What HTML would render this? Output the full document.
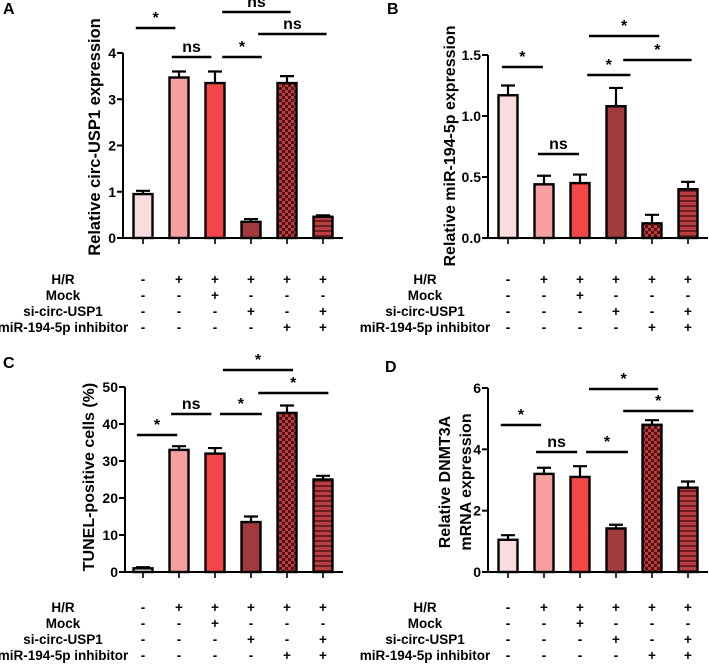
<!DOCTYPE html>
<html><head><meta charset="utf-8"><style>
html,body{margin:0;padding:0;background:#fff;}
svg{display:block;font-family:"Liberation Sans",Arial,sans-serif;font-weight:bold;}
</style></head><body>
<svg id="fig" width="709" height="667" viewBox="0 0 709 667">
<defs>
<pattern id="checker" width="6" height="6" patternUnits="userSpaceOnUse">
<rect width="6" height="6" fill="#c23a3c"/><rect width="3" height="3" fill="#4a1414"/><rect x="3" y="3" width="3" height="3" fill="#4a1414"/>
</pattern>
<pattern id="stripes" width="6" height="5" patternUnits="userSpaceOnUse">
<rect width="6" height="5" fill="#b84042"/><rect width="6" height="2" fill="#6e1e20"/>
</pattern>
</defs>
</svg>
<script>
const categories = ["Control","H/R","H/R+Mock","H/R+si-circ-USP1","H/R+inhibitor","H/R+si+inhibitor"];
const valuesA = [0.95,3.47,3.35,0.35,3.35,0.46];
const errorsA = [0.07,0.13,0.25,0.06,0.15,0.03];
const valuesB = [1.17,0.44,0.45,1.08,0.12,0.40];
const errorsB = [0.08,0.07,0.07,0.15,0.07,0.06];
const valuesC = [1,33,32,13.5,43,25];
const errorsC = [0.3,1,1.5,1.5,2,1];
const valuesD = [1.05,3.2,3.1,1.42,4.8,2.75];
const errorsD = [0.15,0.2,0.35,0.12,0.15,0.2];
const ticksA = [0,1,2,3,4];
const ticksB = [0,0.5,1.0,1.5];
const ticksC = [0,10,20,30,40,50];
const ticksD = [0,2,4,6];
const tickLabelsB = ["0.0","0.5","1.0","1.5"];
const rowNames = ["H/R","Mock","si-circ-USP1","miR-194-5p inhibitor"];
const rowSigns = [["-","+","+","+","+","+"],["-","-","+","-","-","-"],["-","-","-","+","-","+"],["-","-","-","-","+","+"]];
const fills = ["#fbdcdc","#f6a0a0","#f44848","#a13a3b","url(#checker)","url(#stripes)"];
const sigA = [[-0.2,0.9,28,"*"],[0.8,1.9,57,"ns"],[2.2,3.3,57,"*"],[2.2,4.1,12,"ns"],[3.2,5.1,34,"ns"]];
const sigB = [[-0.17,0.97,67,"*"],[0.83,1.97,154,"ns"],[2.2,3.4,75,"*"],[2.25,4.2,36,"*"],[3.2,5.1,60,"*"]];
const sigC = [[-0.17,0.95,105,"*"],[0.78,1.9,84,"ns"],[2.14,3.3,84,"*"],[2.22,4.17,40,"*"],[3.2,5.15,63,"*"]];
const sigD = [[-0.2,0.92,95,"*"],[0.78,1.92,122,"ns"],[2.17,3.33,122,"*"],[2.25,4.17,59,"*"],[3.2,5.15,81,"*"]];

const NS="http://www.w3.org/2000/svg";
const svg=document.getElementById('fig');
function el(tag,attrs,parent,text){const e=document.createElementNS(NS,tag);for(const k in attrs)e.setAttribute(k,attrs[k]);if(text!==undefined)e.textContent=text;(parent||svg).appendChild(e);return e;}

function panel(o){
  const g=el('g',{});
  
  
  const yS=v=>o.y0-(v/o.max)*(o.y0-o.yTop);
  const xS=i=>o.bx+36*i;
  const L=el('text',{x:o.lx,y:o.ly,'font-size':16},g,o.letter);
  
  
  o.values.forEach((v,i)=>{
    const x=xS(i),y=yS(v),e=o.errors[i];
    const eb=el('path',{d:`M${x} ${y} V${yS(v+e)} M${x-7} ${yS(v+e)} H${x+7}`,stroke:'#000','stroke-width':2.2,fill:'none'},g);
    
    
    const r=el('rect',{x:x-9.5,y:y,width:19,height:Math.max(o.y0-y,0.5),fill:fills[i],stroke:'#000','stroke-width':2.4},g);
    
    
    const t=el('line',{x1:x,x2:x,y1:o.y0,y2:o.y0+6,stroke:'#000','stroke-width':1.6},g);
    
    
  });
  const ya=el('line',{x1:o.ax,x2:o.ax,y1:o.yTop,y2:o.y0+1,stroke:'#000','stroke-width':2},g);
  
  
  const xa=el('line',{x1:o.ax-5,x2:xS(5)+20,y1:o.y0,y2:o.y0,stroke:'#000','stroke-width':2},g);
  
  
  o.ticks.forEach((tv,k)=>{
    const y=yS(tv);
    const tl=el('line',{x1:o.ax-6,x2:o.ax,y1:y,y2:y,stroke:'#000','stroke-width':2},g);
    
    
    const tt=el('text',{x:o.ax-7,y:y+5,'font-size':14,'text-anchor':'end'},g,o.tickLabels?o.tickLabels[k]:String(tv));
    
    
  });
  o.title.forEach((line,k)=>{
    const tx=o.tx+k*o.tdx;
    const t=el('text',{x:tx,y:o.ty,'font-size':o.tfs,'text-anchor':'middle',transform:`rotate(-90 ${tx} ${o.ty})`},g,line);
    
    
  });
  o.sig.forEach(s=>{
    const x1=xS(s[0]),x2=xS(s[1]),y=o.sigTop+s[2];
    const l=el('line',{x1:x1,x2:x2,y1:y,y2:y,stroke:'#000','stroke-width':2.6},g);
    
    
    const t=el('text',{x:(x1+x2)/2,y:y-5,'font-size':16,'text-anchor':'middle'},g,s[3]);
    
    
  });
  rowNames.forEach((nm,r)=>{
    const y=o.rowY+r*16;
    const t=el('text',{x:o.rlx,y:y,'font-size':13.5,'text-anchor':'middle'},g,nm);
    
    
    rowSigns[r].forEach((sg,i)=>{
      const s=el('text',{x:xS(i),y:y,'font-size':13.5,'text-anchor':'middle'},g,sg);
      
      
    });
  });
}
panel({letter:'A',lx:3,ly:14,ax:123,bx:143,y0:238,yTop:53,max:4,values:valuesA,errors:errorsA,ticks:ticksA,title:['Relative circ-USP1 expression'],tfs:16.5,tx:100,tdx:0,ty:137,sig:sigA,sigTop:0,rowY:284,rlx:63});
panel({letter:'B',lx:387,ly:14,ax:488,bx:508,y0:238,yTop:55,max:1.5,values:valuesB,errors:errorsB,ticks:ticksB,tickLabels:tickLabelsB,title:['Relative miR-194-5p expression'],tfs:16,tx:455,tdx:0,ty:146,sig:sigB,sigTop:0,rowY:284,rlx:425});
panel({letter:'C',lx:3,ly:368,ax:125,bx:143,y0:572,yTop:387,max:50,values:valuesC,errors:errorsC,ticks:ticksC,title:['TUNEL-positive cells (%)'],tfs:16,tx:94,tdx:0,ty:477,sig:sigC,sigTop:330,rowY:612,rlx:63});
panel({letter:'D',lx:385,ly:372,ax:488,bx:508,y0:572,yTop:388,max:6,values:valuesD,errors:errorsD,ticks:ticksD,title:['Relative DNMT3A','mRNA expression'],tfs:16,tx:450,tdx:21,ty:482,sig:sigD,sigTop:330,rowY:612,rlx:425});
</script>
</body></html>
